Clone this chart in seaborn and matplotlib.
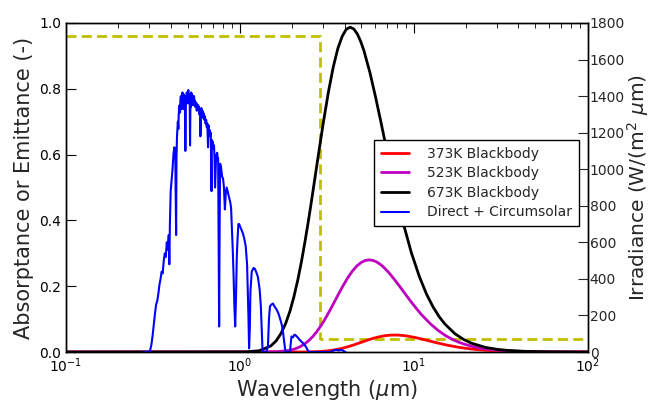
import numpy as np
import pandas as pd
import matplotlib
matplotlib.use("Agg")
import matplotlib.pyplot as plt
import seaborn as sns

# ---------- data ----------
# selective absorber absorptance / emittance (left axis)
absorb_wl = [0.1, 2.88, 2.88, 100.0]
absorb_val = [0.96, 0.96, 0.04, 0.04]

# blackbody spectral emissive power, W/(m2 um) (right axis)
bb673_wl = [0.1, 1.077, 1.292, 1.507, 1.615, 1.722, 1.830, 1.938, 2.045, 2.153, 2.261,
            2.368, 2.476, 2.584, 2.799, 3.014, 3.230, 3.445, 3.660, 3.875, 4.091,
            4.306, 4.521, 4.737, 4.952, 5.167, 5.598, 6.028, 6.459, 6.890, 7.320,
            7.751, 8.181, 8.612, 9.689, 10.77, 11.84, 12.92, 13.99, 15.07, 17.22,
            19.38, 21.53, 25.84, 30.14, 34.45, 43.06, 51.67, 64.59, 86.12, 100.0]
bb673_val = [0.0, 0.61, 6.8, 33.2, 60.6, 100.4, 154.1, 221.4, 301.9, 394.0, 495.4,
             603.6, 715.4, 829.0, 1050, 1251, 1423, 1560, 1661, 1727, 1766,
             1777, 1767, 1740, 1699, 1649, 1528, 1395, 1262, 1134, 1015,
             906, 807.8, 719.7, 542.5, 412.3, 316.3, 245.8, 193.3, 153.9, 100.4,
             68.1, 47.6, 25.2, 14.6, 8.97, 3.93, 1.98, 0.85, 0.28, 0.2]

bb523_wl = [0.1, 1.385, 1.662, 1.939, 2.078, 2.216, 2.355, 2.493, 2.632, 2.771, 2.909,
            3.048, 3.186, 3.325, 3.602, 3.879, 4.156, 4.433, 4.710, 4.987, 5.264,
            5.541, 5.818, 6.095, 6.372, 6.649, 7.203, 7.757, 8.312, 8.866, 9.420,
            9.974, 10.53, 11.08, 12.47, 13.85, 15.24, 16.62, 18.01, 19.39, 22.16,
            24.93, 27.71, 33.25, 38.79, 44.33, 55.41, 66.49, 83.12, 100.0]
bb523_val = [0.0, 0.17, 1.92, 9.42, 17.2, 28.5, 43.7, 62.8, 85.6, 111.7, 140.5,
             171.2, 202.9, 235.1, 297.9, 354.8, 403.6, 442.5, 471.1, 489.9, 500.8,
             504, 501.2, 493.4, 481.8, 467.7, 433.4, 395.6, 357.8, 321.6, 287.8,
             257.0, 229.1, 204.1, 153.9, 116.9, 89.7, 69.7, 54.8, 43.6, 28.5,
             19.3, 13.5, 7.16, 4.13, 2.55, 1.11, 0.56, 0.24, 0.08]

bb373_wl = [0.1, 1.943, 2.331, 2.720, 2.914, 3.108, 3.302, 3.497, 3.691, 3.885, 4.079,
            4.274, 4.468, 4.662, 5.051, 5.439, 5.828, 6.216, 6.605, 6.993, 7.382,
            7.770, 8.159, 8.547, 8.936, 9.324, 10.10, 10.88, 11.66, 12.43, 13.21,
            13.99, 14.76, 15.54, 17.48, 19.43, 21.37, 23.31, 25.25, 27.20, 31.08,
            34.97, 38.85, 46.62, 54.39, 62.16, 77.70, 93.24, 100.0]
bb373_val = [0.0, 0.03, 0.35, 1.74, 3.17, 5.25, 8.05, 11.58, 15.78, 20.6, 25.9,
             31.6, 37.4, 43.3, 54.9, 65.4, 74.4, 81.6, 86.8, 90.3, 92.3,
             92.9, 92.4, 90.9, 88.8, 86.2, 79.9, 72.9, 66.0, 59.3, 53.0,
             47.4, 42.2, 37.6, 28.4, 21.6, 16.5, 12.85, 10.1, 8.05, 5.25,
             3.56, 2.49, 1.32, 0.76, 0.47, 0.21, 0.10, 0.08]

# direct + circumsolar solar spectrum, W/(m2 um) (right axis)
solar_wl = [0.28, 0.30, 0.305, 0.31, 0.315, 0.32, 0.325, 0.33, 0.335, 0.34, 0.345,
            0.35, 0.355, 0.36, 0.365, 0.37, 0.375, 0.38, 0.385, 0.39, 0.393, 0.396,
            0.40, 0.405, 0.41, 0.415, 0.42, 0.425, 0.43, 0.432, 0.435, 0.438, 0.44,
            0.443, 0.445, 0.448, 0.45, 0.453, 0.455, 0.458, 0.46, 0.463, 0.465,
            0.468, 0.47, 0.473, 0.475, 0.478, 0.48, 0.483, 0.486, 0.49, 0.493,
            0.495, 0.498, 0.50, 0.503, 0.505, 0.508, 0.51, 0.513, 0.515, 0.517,
            0.52, 0.523, 0.525, 0.528, 0.53, 0.533, 0.535, 0.538, 0.54, 0.543,
            0.545, 0.548, 0.55, 0.555, 0.56, 0.565, 0.57, 0.575, 0.58, 0.585,
            0.59, 0.593, 0.60, 0.605, 0.61, 0.615, 0.62, 0.625, 0.63, 0.635,
            0.64, 0.645, 0.65, 0.656, 0.66, 0.665, 0.67, 0.675, 0.68, 0.687,
            0.69, 0.695, 0.70, 0.705, 0.71, 0.715, 0.72, 0.725, 0.73, 0.735,
            0.74, 0.745, 0.75, 0.76, 0.765, 0.77, 0.78, 0.79, 0.80, 0.81, 0.82,
            0.83, 0.84, 0.85, 0.86, 0.87, 0.88, 0.89, 0.90, 0.91, 0.92, 0.93,
            0.94, 0.95, 0.96, 0.97, 0.98, 0.99, 1.00, 1.02, 1.04, 1.06, 1.08,
            1.10, 1.12, 1.13, 1.14, 1.15, 1.17, 1.20, 1.22, 1.25, 1.27, 1.30,
            1.32, 1.34, 1.35, 1.36, 1.42, 1.45, 1.47, 1.49, 1.52, 1.55, 1.58,
            1.62, 1.66, 1.70, 1.74, 1.77, 1.80, 1.82, 1.84, 1.94, 1.96, 1.98,
            2.02, 2.06, 2.10, 2.15, 2.20, 2.25, 2.30, 2.35, 2.40, 2.45, 2.50,
            3.30, 3.40, 3.50, 3.60, 3.70, 3.80, 3.90, 4.00, 4.05]
solar_val = [0, 0, 10, 40, 90, 150, 210, 260, 280, 320, 370,
             400, 440, 430, 500, 540, 520, 600, 560, 640, 480, 700,
             880, 940, 1000, 1080, 1120, 1100, 640, 1060, 1180, 1230, 1260,
             1220, 1300, 1340, 1350, 1310, 1380, 1400, 1360, 1330, 1400,
             1420, 1370, 1330, 1410, 1380, 1390, 1350, 1100, 1400, 1370,
             1420, 1390, 1400, 1360, 1433, 1400, 1410, 1370, 1360, 1130,
             1390, 1340, 1420, 1390, 1410, 1370, 1400, 1350, 1390, 1360,
             1400, 1370, 1375, 1340, 1365, 1320, 1355, 1330, 1345, 1300,
             1330, 1180, 1335, 1300, 1320, 1280, 1305, 1270, 1290, 1250,
             1270, 1230, 1250, 1120, 1240, 1200, 1215, 1180, 1200, 880,
             1160, 1130, 1150, 1110, 1130, 1060, 900, 980, 1080, 1050,
             1090, 1060, 1060, 140, 700, 1030, 1010, 960, 950, 900, 780,
             870, 900, 880, 860, 840, 820, 790, 680, 560, 420, 250,
             140, 300, 520, 620, 700, 700, 690, 670, 650, 620, 580,
             480, 200, 20, 120, 330, 440, 460, 455, 430, 410, 340,
             250, 90, 10, 0, 0, 30, 180, 250, 260, 265, 250,
             235, 215, 185, 150, 110, 50, 15, 0, 0, 40, 85,
             80, 95, 90, 80, 68, 58, 50, 40, 28, 12, 0,
             0, 5, 10, 12, 8, 12, 9, 3, 0]

# ---------- style ----------
sns.set_style("white")
plt.rcParams["font.family"] = ["DejaVu Sans"]
plt.rcParams["mathtext.fontset"] = "dejavusans"

fig = plt.figure(figsize=(6.53, 4.0), dpi=100)
ax1 = fig.add_axes([0.101, 0.12, 0.799, 0.8225])
ax2 = ax1.twinx()

# ---------- left axis: absorptance ----------
df_abs = pd.DataFrame({"wl": absorb_wl, "val": absorb_val})
sns.lineplot(data=df_abs, x="wl", y="val", ax=ax1, color=(0.75, 0.75, 0.0),
             lw=2, estimator=None, sort=False)
ax1.lines[-1].set_dashes([3.6, 1.9])

# ---------- right axis: irradiance ----------
curves = [
    (bb373_wl, bb373_val, "373K Blackbody", "red", 2.0),
    (bb523_wl, bb523_val, "523K Blackbody", (0.75, 0.0, 0.75), 2.0),
    (bb673_wl, bb673_val, "673K Blackbody", "black", 2.0),
    (solar_wl, solar_val, "Direct + Circumsolar", "blue", 1.5),
]
for wl, val, lab, col, lw in curves:
    d = pd.DataFrame({"wl": wl, "val": val})
    sns.lineplot(data=d, x="wl", y="val", ax=ax2, color=col, lw=lw,
                 label=lab, estimator=None, sort=False)

ax1.set_xscale("log")
ax1.set_xlim(0.1, 100)
ax1.set_ylim(0, 1.0)
ax2.set_ylim(0, 1800)
ax1.set_yticks([0.0, 0.2, 0.4, 0.6, 0.8, 1.0])
ax2.set_yticks(range(0, 1801, 200))

ax1.set_xlabel("Wavelength ($\\mu$m)", fontsize=15, labelpad=2)
ax1.set_ylabel("Absorptance or Emittance (-)", fontsize=15, labelpad=4)
ax2.set_ylabel("Irradiance (W/(m$^2$ $\\mu$m)", fontsize=14.5, labelpad=0)

ax1.tick_params(axis="both", which="both", direction="in", labelsize=10,
                top=True, right=False, colors="black")
ax1.tick_params(axis="x", which="major", length=7, pad=3)
ax1.tick_params(axis="x", which="minor", length=3.5)
ax1.tick_params(axis="y", which="major", length=7)
ax2.tick_params(axis="y", direction="in", labelsize=10, length=7, pad=1.5)

for ax in (ax1, ax2):
    for s in ax.spines.values():
        s.set_color("black")
        s.set_linewidth(1.0)

leg = ax2.legend(loc="upper right", bbox_to_anchor=(0.996, 0.666), fontsize=10,
                 frameon=True, fancybox=False, framealpha=1, edgecolor="black",
                 handlelength=2.0, handletextpad=1.3, labelspacing=0.4,
                 borderpad=0.5)
leg.get_frame().set_linewidth(1.0)

fig.savefig("out.png", dpi=100)
